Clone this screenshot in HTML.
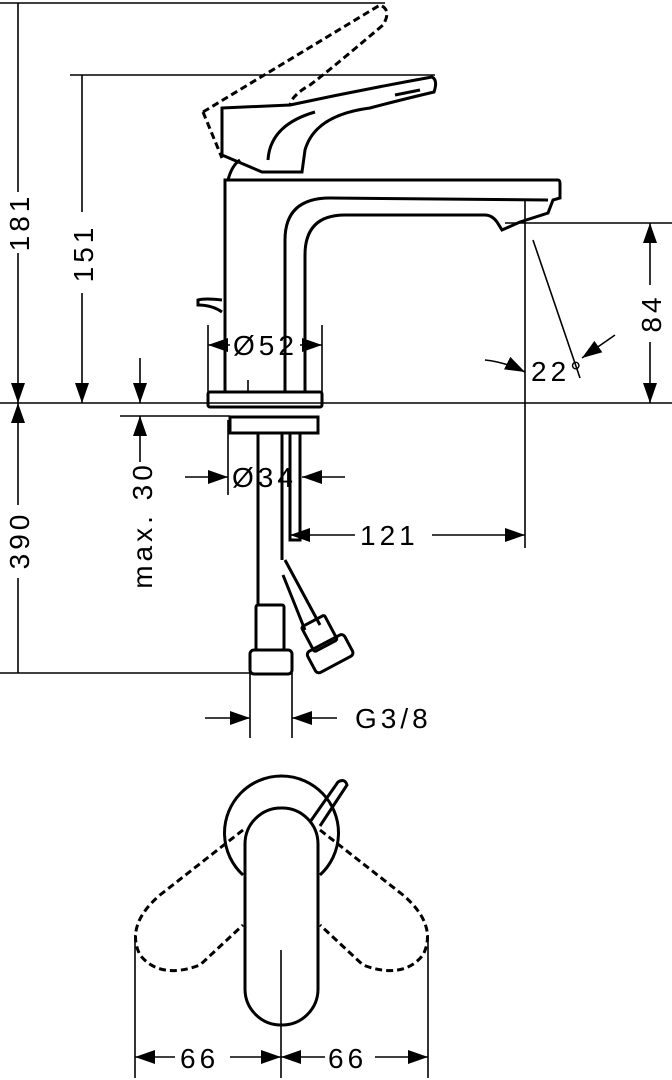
<!DOCTYPE html>
<html><head><meta charset="utf-8"><style>
html,body{margin:0;padding:0;background:#fff;}
svg{display:block;}
text{font-family:"Liberation Sans",sans-serif;font-size:28px;fill:#000;letter-spacing:4px;}
</style></head><body>
<svg width="672" height="1080" viewBox="0 0 672 1080" xmlns="http://www.w3.org/2000/svg">
<defs>
<marker id="a" viewBox="0 0 20 14" refX="20" refY="7" markerWidth="20" markerHeight="14" markerUnits="userSpaceOnUse" orient="auto-start-reverse"><path d="M0,0 L20,7 L0,14 Z" fill="#000"/></marker>
</defs>
<g stroke="#000" fill="none" stroke-width="1.6">
<line x1="0" y1="3" x2="385" y2="3"/>
<line x1="70" y1="75" x2="435" y2="75"/>
<line x1="0" y1="403" x2="672" y2="403"/>
<line x1="505" y1="223" x2="672" y2="223"/>
<line x1="120" y1="416" x2="230" y2="416"/>
<line x1="0" y1="673" x2="250" y2="673"/>
<line x1="525" y1="200" x2="525" y2="548"/>
<line x1="18" y1="3" x2="18" y2="192"/>
<line x1="18" y1="253" x2="18" y2="403" marker-end="url(#a)"/>
<line x1="82" y1="75" x2="82" y2="212"/>
<line x1="82" y1="293" x2="82" y2="403" marker-end="url(#a)"/>
<line x1="18" y1="505" x2="18" y2="403" marker-end="url(#a)"/>
<line x1="18" y1="578" x2="18" y2="673"/>
<line x1="140" y1="358" x2="140" y2="403" marker-end="url(#a)"/>
<line x1="140" y1="462" x2="140" y2="416" marker-end="url(#a)"/>
<line x1="650" y1="285" x2="650" y2="223" marker-end="url(#a)"/>
<line x1="650" y1="342" x2="650" y2="403" marker-end="url(#a)"/>
<g stroke-width="3">
<path d="M225,392 L225,180 L558,180 Q560,180 560,184 L560,198 L553,200 L548,213 L520,222 L502,230 L497,222 Q492,215 485,215 L345,215 Q305,215 305,255 L305,392"/>
<path d="M285,392 L285,240 Q285,198 330,198 L548,200"/>
<rect x="208" y="392" width="114" height="15" rx="2"/>
<rect x="230" y="417" width="88" height="16"/>
<path d="M222,108 L290,105 Q360,90 432,77 Q438,80 434,92 Q400,100 370,108 Q315,115 305,150 L302,172 L262,172 L222,155 Z"/>
<path d="M228,180 Q232,165 240,160"/>
<path d="M268,160 Q270,125 315,112"/>
<path d="M395,95 L420,90"/>
<path d="M222,300 Q205,298 198,300 L198,305 Q212,305 222,312"/>
<path d="M258,433 L258,605 M282,433 L282,560 M290,433 L290,540 L300,540 L300,433"/>
<path d="M285,560 L320,625 M283,575 L305,630"/>
<rect x="256" y="605" width="28" height="45" rx="2"/>
<rect x="250" y="650" width="42" height="24" rx="4"/>
<g transform="translate(316,625) rotate(-28)"><rect x="-14" y="-5" width="26" height="28" rx="2"/><rect x="-22" y="20" width="42" height="24" rx="4"/></g>
<path d="M243,875 A57,57 0 1 1 320,875"/>
<rect x="245" y="808" width="73" height="217" rx="36"/>
<path d="M310,822 L338,782 Q345,778 347,785 L320,826"/>
</g>
<g stroke-width="3" stroke-dasharray="7,4">
<path d="M203,112 L222,158 M203,112 L380,5 Q392,10 383,25 Q330,70 310,85 Q292,95 290,105"/>
<path d="M243,830 L160,895 Q125,925 140,955 Q160,980 200,965 L243,925"/>
<path d="M320,830 L403,895 Q438,925 423,955 Q403,980 363,965 L320,925"/>
</g>
<line x1="208" y1="325" x2="208" y2="392"/><line x1="322" y1="325" x2="322" y2="392"/>
<line x1="230" y1="345" x2="208" y2="345" marker-end="url(#a)"/>
<line x1="300" y1="345" x2="322" y2="345" marker-end="url(#a)"/>
<line x1="248" y1="380" x2="248" y2="392"/>
<line x1="533" y1="240" x2="580" y2="378"/>
<path d="M485,360 Q505,362 525,372" marker-end="url(#a)"/>
<line x1="615" y1="335" x2="582" y2="358" marker-end="url(#a)"/>
<line x1="185" y1="477" x2="228" y2="477" marker-end="url(#a)"/>
<line x1="345" y1="477" x2="302" y2="477" marker-end="url(#a)"/>
<line x1="228" y1="420" x2="228" y2="495"/>
<line x1="355" y1="535" x2="290" y2="535" marker-end="url(#a)"/>
<line x1="432" y1="535" x2="525" y2="535" marker-end="url(#a)"/>
<line x1="250" y1="673" x2="250" y2="738"/><line x1="292" y1="673" x2="292" y2="738"/>
<line x1="205" y1="718" x2="250" y2="718" marker-end="url(#a)"/>
<line x1="337" y1="718" x2="292" y2="718" marker-end="url(#a)"/>
<line x1="135" y1="935" x2="135" y2="1078"/><line x1="428" y1="935" x2="428" y2="1078"/>
<line x1="281" y1="950" x2="281" y2="1078"/>
<line x1="175" y1="1057" x2="135" y2="1057" marker-end="url(#a)"/>
<line x1="230" y1="1057" x2="281" y2="1057" marker-end="url(#a)"/>
<line x1="325" y1="1057" x2="281" y2="1057" marker-end="url(#a)"/>
<line x1="375" y1="1057" x2="428" y2="1057" marker-end="url(#a)"/>
</g>
<text transform="translate(29,222) rotate(-90)" text-anchor="middle">181</text>
<text transform="translate(93,253) rotate(-90)" text-anchor="middle">151</text>
<text transform="translate(29,540) rotate(-90)" text-anchor="middle">390</text>
<text transform="translate(152,525) rotate(-90)" text-anchor="middle">max. 30</text>
<text transform="translate(661,313) rotate(-90)" text-anchor="middle">84</text>
<text x="233" y="355">Ø52</text>
<text x="531" y="381">22°</text>
<text x="232" y="487">Ø34</text>
<text x="360" y="545">121</text>
<text x="355" y="728">G3/8</text>
<text x="180" y="1068">66</text>
<text x="328" y="1068">66</text>
</svg>
</body></html>
